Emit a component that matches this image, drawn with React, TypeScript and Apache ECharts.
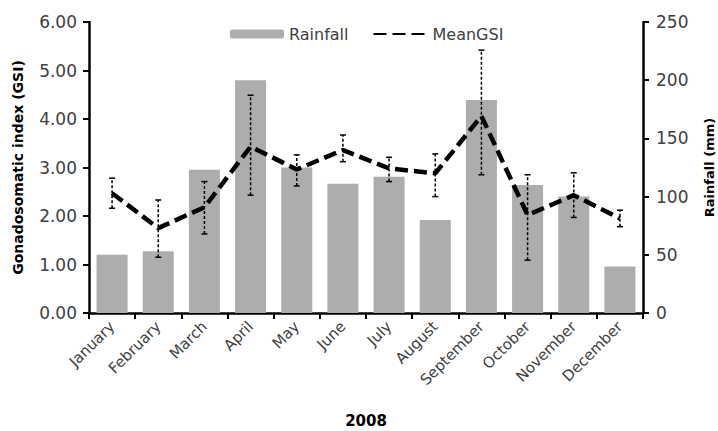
import React, { useEffect, useRef } from "react";
import * as echarts from "echarts";

const months = ["January", "February", "March", "April", "May", "June", "July", "August", "September", "October", "November", "December"];
const rainfall = [50, 53, 123, 200, 125, 111, 117, 80, 183, 110, 100, 40];
const meanGSI = [2.47, 1.75, 2.18, 3.43, 2.96, 3.36, 2.98, 2.88, 4.06, 2.02, 2.43, 1.95];
const gsiUpper = [2.78, 2.33, 2.71, 4.49, 3.26, 3.67, 3.21, 3.28, 5.42, 2.85, 2.89, 2.12];
const gsiLower = [2.16, 1.15, 1.63, 2.43, 2.62, 3.12, 2.71, 2.40, 2.85, 1.09, 1.97, 1.78];

const FONT = "DejaVu Sans";
const TXT = "#404040";

export default function App() {
  const ref = useRef<HTMLDivElement>(null);
  useEffect(() => {
    if (!ref.current) return;
    const chart = echarts.init(ref.current, null, { renderer: "svg" });
    const errData = months.map((_, i) => [i, gsiLower[i], gsiUpper[i]]);
    chart.setOption({
      animation: false,
      backgroundColor: "#fff",
      grid: { left: 89, right: 75, top: 22, bottom: 118, containLabel: false, outerBoundsMode: "none" },
      legend: {
        data: [
          { name: "Rainfall" },
          { name: "MeanGSI", itemStyle: { opacity: 0 } },
        ],
        left: 225,
        top: 21,
        itemWidth: 54,
        itemHeight: 9,
        itemGap: 24,
        textStyle: { fontFamily: FONT, fontSize: 16, color: TXT, padding: [0, 0, 0, 0] },
      },
      xAxis: {
        type: "category",
        data: months,
        name: "2008",
        nameLocation: "middle",
        nameGap: 100,
        nameTextStyle: { fontFamily: FONT, fontSize: 15, fontWeight: "bold", color: "#000" },
        axisLine: { lineStyle: { color: "#000", width: 2.5 } },
        axisTick: { show: true, inside: false, length: 6, lineStyle: { color: "#000", width: 2 } },
        axisLabel: { rotate: 45, margin: 11, fontFamily: FONT, fontSize: 15, color: TXT },
      },
      yAxis: [
        {
          type: "value",
          min: 0,
          max: 6,
          interval: 1,
          name: "Gonadosomatic index (GSI)",
          nameLocation: "middle",
          nameRotate: 90,
          nameGap: 64,
          nameTextStyle: { fontFamily: FONT, fontSize: 14, fontWeight: "bold", color: "#000" },
          axisLine: { show: true, lineStyle: { color: "#000", width: 2.5 } },
          axisTick: { show: true, length: 6, lineStyle: { color: "#000", width: 2 } },
          axisLabel: { margin: 12, fontFamily: FONT, fontSize: 17, color: TXT, formatter: (v: number) => v.toFixed(2) },
          splitLine: { show: false },
        },
        {
          type: "value",
          min: 0,
          max: 250,
          interval: 50,
          position: "right",
          name: "Rainfall (mm)",
          nameLocation: "middle",
          nameRotate: 90,
          nameGap: 60,
          nameTextStyle: { fontFamily: FONT, fontSize: 13, fontWeight: "bold", color: "#000" },
          axisLine: { show: true, lineStyle: { color: "#000", width: 2.5 } },
          axisTick: { show: true, length: 6, lineStyle: { color: "#000", width: 2 } },
          axisLabel: { margin: 13, fontFamily: FONT, fontSize: 17, color: TXT },
          splitLine: { show: false },
        },
      ],
      series: [
        {
          name: "Rainfall",
          type: "bar",
          yAxisIndex: 1,
          data: rainfall,
          barWidth: 31,
          itemStyle: { color: "#adadad" },
        },
        {
          name: "MeanGSI",
          type: "line",
          yAxisIndex: 0,
          data: meanGSI,
          symbol: "none",
          lineStyle: { color: "#000", width: 4.5, type: [13, 6] },
          itemStyle: { color: "#000" },
          z: 3,
        },
        {
          name: "err",
          type: "custom",
          yAxisIndex: 0,
          data: errData,
          encode: { x: 0, y: [1, 2] },
          z: 4,
          renderItem: (params: any, api: any) => {
            const i = api.value(0);
            const lo = api.coord([i, api.value(1)]);
            const hi = api.coord([i, api.value(2)]);
            const c = 3;
            const dashed = { stroke: "#000", lineWidth: 1.5, lineDash: [3, 2], fill: null };
            const solid = { stroke: "#000", lineWidth: 1.5, fill: null };
            return {
              type: "group",
              children: [
                { type: "line", shape: { x1: lo[0], y1: lo[1], x2: hi[0], y2: hi[1] }, style: dashed },
                { type: "line", shape: { x1: hi[0] - c, y1: hi[1], x2: hi[0] + c, y2: hi[1] }, style: solid },
                { type: "line", shape: { x1: lo[0] - c, y1: lo[1], x2: lo[0] + c, y2: lo[1] }, style: solid },
              ],
            };
          },
        },
      ],
    });
    return () => chart.dispose();
  }, []);
  return <div ref={ref} style={{ width: 718, height: 431, position: "absolute", left: 0, top: 0 }} />;
}
